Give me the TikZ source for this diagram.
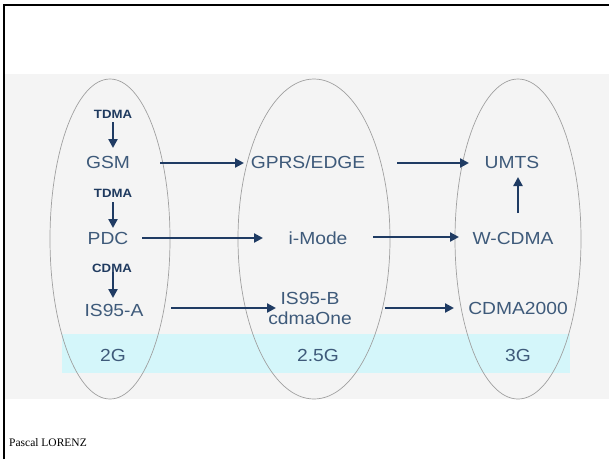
\documentclass[tikz,border=0pt]{standalone}
\usepackage{fontspec}
\setmainfont{Liberation Sans}
\newfontfamily\labfont[FakeStretch=1.1]{Liberation Sans}
\newfontfamily\serfont{Liberation Serif}
\usetikzlibrary{arrows.meta}
\definecolor{txtc}{HTML}{3E5A7A}
\definecolor{smallc}{HTML}{1F3A5F}
\definecolor{arrc}{HTML}{1F3B63}
\definecolor{bandc}{HTML}{D4F6FA}
\definecolor{bgc}{HTML}{F4F4F4}
\definecolor{ellc}{HTML}{A0A0A0}
\begin{document}
\begin{tikzpicture}[x=1pt,y=-1pt,
  lab/.style={text=txtc,font=\labfont\fontsize{17.5}{20}\selectfont,inner sep=0pt,align=center},
  tag/.style={text=smallc,font=\labfont\bfseries\fontsize{12}{14}\selectfont,inner sep=0pt},
  conn/.style={draw=arrc,line width=2.4pt,-{Triangle[length=9pt,width=9pt]}},
  era/.style={draw=ellc,line width=0.7pt}]
\useasboundingbox (0,0) rectangle (609,459);
\fill[white] (0,0) rectangle (609,459);
\fill[bgc] (5,74) rectangle (609,399);
\fill[bandc] (62,334) rectangle (570,373);
% frame
\draw[black,line width=2pt] (4,459) -- (4,5) -- (609,5);
% ellipses
\draw[era] (110,239) ellipse [x radius=60,y radius=160];
\draw[era] (314,239) ellipse [x radius=76,y radius=160];
\draw[era] (518,239) ellipse [x radius=63,y radius=160];
% 2G column
\node[tag] (t1) at (113,114) {TDMA};
\node[lab] (gsm) at (108,162) {GSM};
\node[tag] (t2) at (113,193) {TDMA};
\node[lab] (pdc) at (108,238) {PDC};
\node[tag] (t3) at (112,268) {CDMA};
\node[lab] (is95a) at (114,310) {IS95-A};
\node[lab] (g2) at (113,355) {2G};
% 2.5G column
\node[lab] (gprs) at (308,162) {GPRS/EDGE};
\node[lab] (imode) at (318,238) {i-Mode};
\node[lab] (is95b) at (310,308) {IS95-B\\cdmaOne};
\node[lab] (g25) at (318,355) {2.5G};
% 3G column
\node[lab] (umts) at (512,162) {UMTS};
\node[lab] (wcdma) at (513,238) {W-CDMA};
\node[lab] (cdma2k) at (518,308) {CDMA2000};
\node[lab] (g3) at (518,355) {3G};
% connector end points
\coordinate (a1s) at (113,122); \coordinate (a1e) at (113,148);
\coordinate (a2s) at (113,202); \coordinate (a2e) at (113,228);
\coordinate (a3s) at (113,272); \coordinate (a3e) at (113,298);
\coordinate (h1s) at (160,163); \coordinate (h1e) at (244,163);
\coordinate (h2s) at (142,238); \coordinate (h2e) at (263,238);
\coordinate (h3s) at (171,308); \coordinate (h3e) at (276,308);
\coordinate (h4s) at (397,163); \coordinate (h4e) at (469,163);
\coordinate (h5s) at (373,237); \coordinate (h5e) at (459,237);
\coordinate (h6s) at (385,308); \coordinate (h6e) at (454,308);
\coordinate (vs) at (518,213); \coordinate (ve) at (518,177);
\draw[conn] (a1s) -- (a1e);
\draw[conn] (a2s) -- (a2e);
\draw[conn] (a3s) -- (a3e);
\draw[conn] (h1s) -- (h1e);
\draw[conn] (h2s) -- (h2e);
\draw[conn] (h3s) -- (h3e);
\draw[conn] (h4s) -- (h4e);
\draw[conn] (h5s) -- (h5e);
\draw[conn] (h6s) -- (h6e);
\draw[conn] (vs) -- (ve);
\node[font=\serfont\fontsize{11.5}{13}\selectfont,anchor=base west,inner sep=0pt] (auth) at (9,446) {Pascal LORENZ};
\end{tikzpicture}
\end{document}
